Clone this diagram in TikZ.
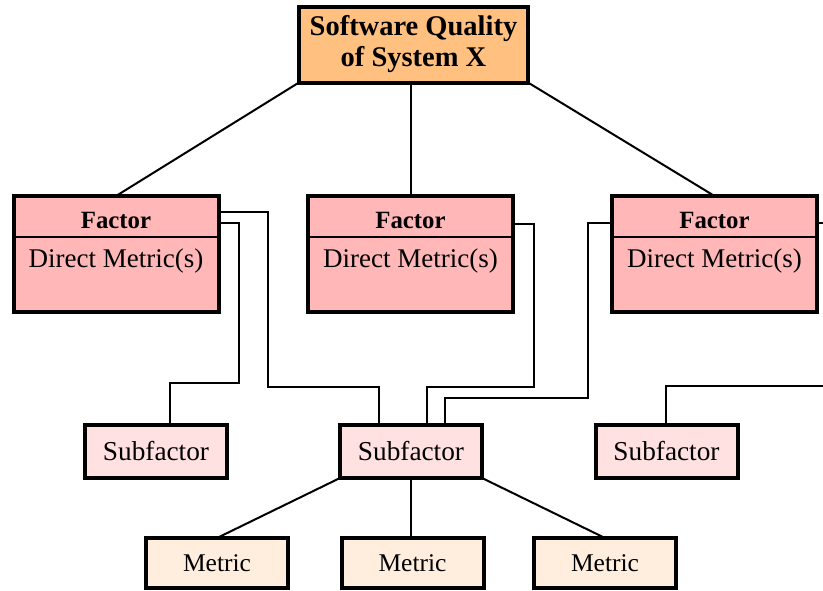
\documentclass[tikz,border=0pt]{standalone}
\usepackage{fontspec}
\setmainfont{Liberation Serif}
\definecolor{topfill}{HTML}{FFC080}
\definecolor{factfill}{HTML}{FFB7B7}
\definecolor{subfill}{HTML}{FFE1E1}
\definecolor{metfill}{HTML}{FFEEDD}
\tikzset{
  box/.style={draw, line width=4pt, rectangle, inner sep=0pt, outer sep=0pt, anchor=center},
  topbox/.style={box, fill=topfill, minimum width=229pt, minimum height=76pt,
     font=\fontsize{28.5}{32}\selectfont\bfseries, align=center},
  factbox/.style={box, fill=factfill, minimum width=205pt, minimum height=116pt},
  subbox/.style={box, fill=subfill, minimum width=142pt, minimum height=53pt,
     font=\fontsize{27.3}{30}\selectfont},
  metbox/.style={box, fill=metfill, minimum width=142pt, minimum height=50pt,
     font=\fontsize{25.5}{30}\selectfont},
  conn/.style={draw, line width=2pt},
  factlbl/.style={font=\fontsize{24.8}{28}\selectfont\bfseries, inner sep=0pt},
  dmlbl/.style={font=\fontsize{27}{30}\selectfont, inner sep=0pt}
}
\begin{document}
\begin{tikzpicture}[x=1pt,y=-1pt]
\useasboundingbox (0,0) rectangle (823,590);
% top
\node[topbox] (top) at (413.5,44.5) {Software Quality\\[-1pt]of System X};
% factors
\foreach \n/\x in {f1/116, f2/410.5, f3/714.5}{
  \node[factbox] (\n) at (\x,254) {};
  \draw[line width=2pt] ([yshift=-41pt]\n.north west) -- ([yshift=-41pt]\n.north east);
  \node[factlbl] (\n t) at (\x,220) {Factor};
  \node[dmlbl] (\n d) at (\x,261) {Direct Metric(s)};
}
% subfactors
\node[subbox] (s1) at (156,451.5) {Subfactor};
\node[subbox] (s2) at (411,451.5) {Subfactor};
\node[subbox] (s3) at (666.5,451.5) {Subfactor};
% metrics
\node[metbox] (m1) at (217,563) {Metric};
\node[metbox] (m2) at (412.5,563) {Metric};
\node[metbox] (m3) at (605,563) {Metric};
% off-edge coordinates
\coordinate (e1) at (823,223);
\coordinate (e2) at (823,386);
% top connectors
\draw[conn] (top.south west) -- (f1.north);
\draw[conn] (top.south -| f2.north) -- (f2.north);
\draw[conn] (top.south east) -- (f3.north);
% factor to subfactor connectors
\draw[conn] ([yshift=-16pt]f1.north east) -- (268,212) -- (268,387) -| ([xshift=39pt]s2.north west);
\draw[conn] ([yshift=-27pt]f1.north east) -- (239,223) -- (239,383) -| (s1.north -| 170,0);
\draw[conn] ([yshift=-28pt]f2.north east) -- (534,224) -- (534,387) -| ([xshift=87pt]s2.north west);
\draw[conn] ([yshift=-27pt]f3.north west) -- (588,223) -- (588,398) -| ([xshift=105pt]s2.north west);
\draw[conn] ([yshift=-27pt]f3.north east) -- (e1);
\draw[conn] (s3.north -| 666,0) |- (e2);
% subfactor to metrics
\draw[conn] (s2.south west) -- (m1.north);
\draw[conn] (s2.south) -- (m2.north -| s2.south);
\draw[conn] (s2.south east) -- (m3.north);
\end{tikzpicture}
\end{document}
